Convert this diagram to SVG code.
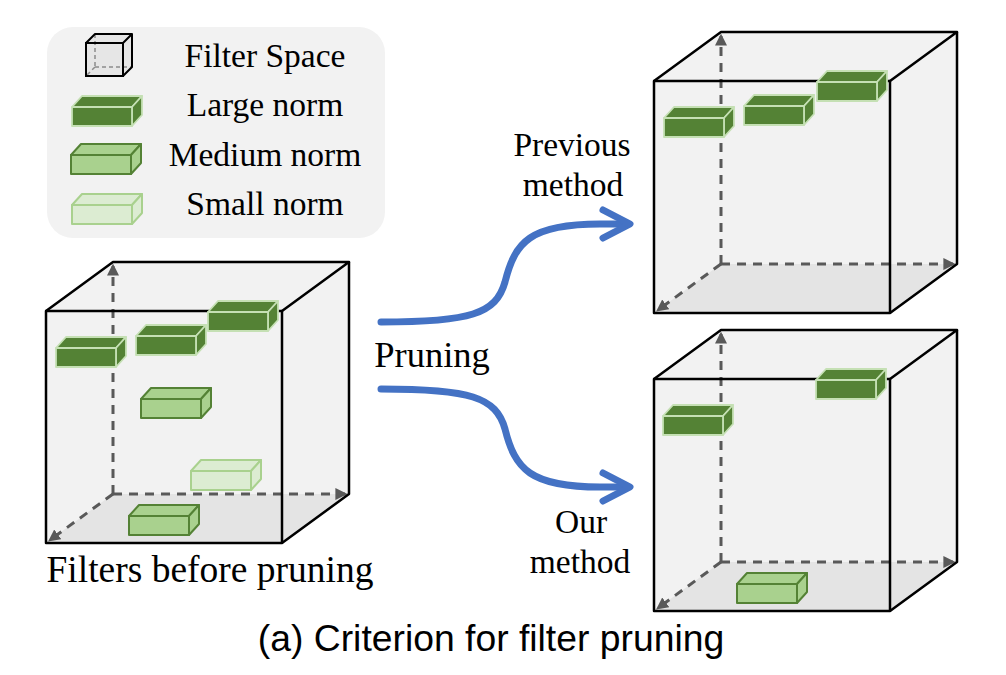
<svg xmlns="http://www.w3.org/2000/svg" xmlns:xlink="http://www.w3.org/1999/xlink" width="1006" height="675" viewBox="0 0 1006 675">
<style>
.serif{font-family:"Liberation Serif","Times New Roman",serif;fill:#000;}
.edge{fill:none;stroke:#000;stroke-width:2.5;stroke-linejoin:round;}
.dash{fill:none;stroke:#595959;stroke-width:3;stroke-dasharray:9 7;}
.flow{fill:none;stroke:#4472c4;stroke-width:7;stroke-linecap:round;stroke-linejoin:round;}
.lg{fill:#548235;stroke:#c5e0b4;stroke-width:1.8;stroke-linejoin:round;}
.md{fill:#a9d18e;stroke:#548235;stroke-width:2;stroke-linejoin:round;}
.sm{fill:#dcecd2;stroke:#a9d18e;stroke-width:2;stroke-linejoin:round;}
</style>
<defs>
<marker id="dh" viewBox="0 0 10 10" refX="8" refY="5" markerWidth="4" markerHeight="4" orient="auto" markerUnits="strokeWidth">
<path d="M0,0 L10,5 L0,10 z" fill="#595959"/>
</marker>
<g id="box">
<polygon points="0,0 10,-11 70,-11 60,0"/>
<polygon points="60,0 70,-11 70,8 60,19"/>
<rect x="0" y="0" width="60" height="19"/>
</g>
<g id="cube">
<polygon points="0,0 67,-49 303,-49 303,183 236,232 0,232" fill="#f2f2f2"/>
<polygon points="0,232 236,232 303,183 67,183" fill="#e4e4e4"/>
<line class="dash" x1="67" y1="183" x2="67" y2="-45" marker-end="url(#dh)"/>
<line class="dash" x1="67" y1="183" x2="299" y2="183" marker-end="url(#dh)"/>
<line class="dash" x1="67" y1="183" x2="4" y2="229" marker-end="url(#dh)"/>
<rect class="edge" x="0" y="0" width="236" height="232"/>
<polyline class="edge" points="0,0 67,-49 303,-49 236,0"/>
<polyline class="edge" points="303,-49 303,183 236,232"/>
</g>
</defs>

<g id="legend">
<rect x="47" y="27" width="338" height="211" rx="26" fill="#f2f2f2"/>
<g id="legend-cube">
<polygon points="86,43 95,34 132,34 132,67 123,76 86,76" fill="#e6e6e6"/>
<line x1="95" y1="34" x2="95" y2="67" stroke="#8c8c8c" stroke-width="1.5" stroke-dasharray="4 3"/>
<line x1="95" y1="67" x2="132" y2="67" stroke="#8c8c8c" stroke-width="1.5" stroke-dasharray="4 3"/>
<line x1="95" y1="67" x2="86" y2="76" stroke="#8c8c8c" stroke-width="1.5" stroke-dasharray="4 3"/>
<rect x="86" y="43" width="37" height="33" fill="none" stroke="#000" stroke-width="2"/>
<polyline points="86,43 95,34 132,34 123,43" fill="none" stroke="#000" stroke-width="2" stroke-linejoin="round"/>
<polyline points="132,34 132,67 123,76" fill="none" stroke="#000" stroke-width="2" stroke-linejoin="round"/>
</g>
<use href="#box" class="lg" transform="translate(72,107)"/>
<use href="#box" class="md" transform="translate(71,155)"/>
<use href="#box" class="sm" transform="translate(72,205)"/>
<text class="serif" x="265" y="67" font-size="33.5" text-anchor="middle">Filter Space</text>
<text class="serif" x="265" y="116" font-size="33.5" text-anchor="middle">Large norm</text>
<text class="serif" x="265" y="166" font-size="33.5" text-anchor="middle">Medium norm</text>
<text class="serif" x="265" y="215" font-size="33.5" text-anchor="middle">Small norm</text>
</g>

<g id="cube-before">
<use href="#cube" transform="translate(46,311)"/>
<use href="#box" class="lg" transform="translate(56,348)"/>
<use href="#box" class="lg" transform="translate(136,336)"/>
<use href="#box" class="lg" transform="translate(208,312)"/>
<use href="#box" class="md" transform="translate(141,399)"/>
<use href="#box" class="sm" transform="translate(191,471)"/>
<use href="#box" class="md" transform="translate(129,516)"/>
<text class="serif" x="210" y="582" font-size="37.5" text-anchor="middle">Filters before pruning</text>
</g>

<g id="cube-previous">
<use href="#cube" transform="translate(654,81)"/>
<use href="#box" class="lg" transform="translate(664,118)"/>
<use href="#box" class="lg" transform="translate(744,106)"/>
<use href="#box" class="lg" transform="translate(817,82)"/>
</g>

<g id="cube-ours">
<use href="#cube" transform="translate(654,379)"/>
<use href="#box" class="lg" transform="translate(663,416)"/>
<use href="#box" class="lg" transform="translate(816,380)"/>
<use href="#box" class="md" transform="translate(737,584)"/>
</g>

<g id="connectors">
<path class="flow" d="M381,322 C470,322 496,314 505,282 C515,242 530,224 600,224 L628,224"/>
<polyline class="flow" points="603,210 630,224 603,238"/>
<path class="flow" d="M381,389 C470,389 496,397 505,429 C515,469 530,487 600,487 L628,487"/>
<polyline class="flow" points="603,473 630,487 603,501"/>
</g>

<g id="labels">
<text class="serif" x="432" y="367" font-size="36.5" text-anchor="middle">Pruning</text>
<text class="serif" x="572" y="156" font-size="33.5" text-anchor="middle">Previous</text>
<text class="serif" x="573" y="196" font-size="33.5" text-anchor="middle">method</text>
<text class="serif" x="581" y="533" font-size="33.5" text-anchor="middle">Our</text>
<text class="serif" x="580" y="573" font-size="33.5" text-anchor="middle">method</text>
<text x="491" y="651" font-size="37.3" text-anchor="middle" font-family="'Liberation Sans', Arial, sans-serif" fill="#000">(a) Criterion for filter pruning</text>
</g>
</svg>
